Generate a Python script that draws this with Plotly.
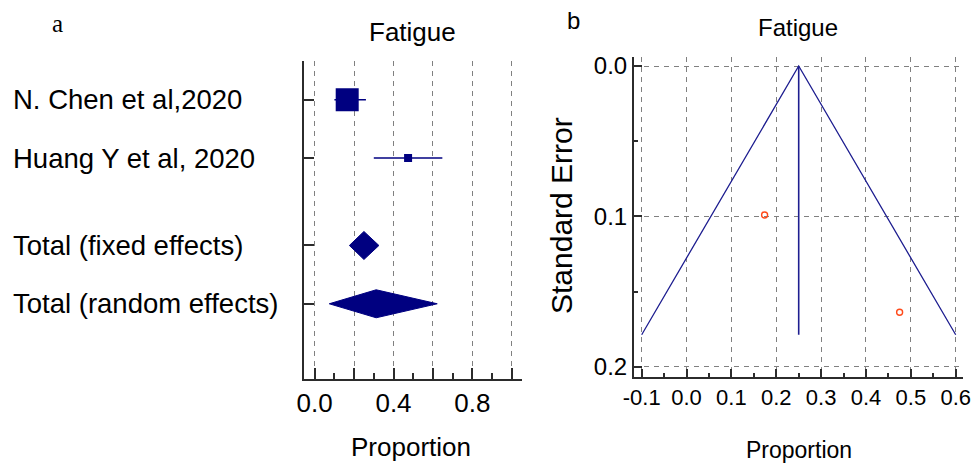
import plotly.graph_objects as go

# ---- data -------------------------------------------------------------
studies = ["N. Chen et al,2020", "Huang Y et al, 2020"]
study_prop = [0.165, 0.474]
study_lo = [0.100, 0.300]
study_hi = [0.260, 0.648]

pooled = ["Total (fixed effects)", "Total (random effects)"]
pooled_prop = [0.250, 0.312]
pooled_lo = [0.176, 0.074]
pooled_hi = [0.326, 0.622]

# funnel plot: study proportions against their standard errors
funnel_prop = [0.174, 0.475]
funnel_se = [0.099, 0.1637]
funnel_center = 0.25
funnel_se_max = 0.1786

forest_ticks = [0.0, 0.2, 0.4, 0.6, 0.8, 1.0]
forest_ticktext = ["0.0", "", "0.4", "", "0.8", ""]
funnel_xticks = [-0.1, 0.0, 0.1, 0.2, 0.3, 0.4, 0.5, 0.6]
funnel_yticks = [0.0, 0.1, 0.2]

# ---- styling ----------------------------------------------------------
W, H = 972, 464
NAVY = "#000080"
FUNNEL_BLUE = "#1e1e90"
POINT_RED = "#ff4a1a"
GRID = "#808080"
AXIS = "#2b2b2b"
SANS = "Liberation Sans, Arial, sans-serif"
SERIF = "Liberation Serif, Times New Roman, serif"

study_rows = [0, 1]
pooled_rows = [2.5, 3.5]
square_px = [23, 8]
diamond_half = 0.24


def fx(p):
    return p / W


def fy(p):
    return 1 - p / H


fig = go.Figure()

# forest plot: confidence intervals and weighted squares
for lo, hi, r in zip(study_lo, study_hi, study_rows):
    fig.add_trace(go.Scatter(x=[lo, hi], y=[r, r], mode="lines",
                             line=dict(color=NAVY, width=1.6),
                             xaxis="x", yaxis="y", hoverinfo="skip"))
fig.add_trace(go.Scatter(x=study_prop, y=study_rows, mode="markers",
                         marker=dict(symbol="square", size=square_px, color=NAVY,
                                     opacity=1, line=dict(width=0)),
                         xaxis="x", yaxis="y"))

# pooled estimates as diamonds
for est, lo, hi, r in zip(pooled_prop, pooled_lo, pooled_hi, pooled_rows):
    fig.add_trace(go.Scatter(x=[lo, est, hi, est, lo],
                             y=[r, r - diamond_half, r, r + diamond_half, r],
                             mode="lines", fill="toself", fillcolor=NAVY,
                             line=dict(color=NAVY, width=1),
                             xaxis="x", yaxis="y"))

# funnel plot: pseudo 95% limits and pooled line
half = 1.96 * funnel_se_max
fig.add_trace(go.Scatter(x=[funnel_center - half, funnel_center, funnel_center + half],
                         y=[funnel_se_max, 0, funnel_se_max], mode="lines",
                         line=dict(color=FUNNEL_BLUE, width=1.3),
                         xaxis="x2", yaxis="y2"))
fig.add_trace(go.Scatter(x=[funnel_center, funnel_center], y=[0, funnel_se_max],
                         mode="lines", line=dict(color=FUNNEL_BLUE, width=1.6),
                         xaxis="x2", yaxis="y2"))
fig.add_trace(go.Scatter(x=funnel_prop, y=funnel_se, mode="markers",
                         marker=dict(symbol="circle-open", size=6, color=POINT_RED,
                                     line=dict(width=1.4)),
                         xaxis="x2", yaxis="y2"))

axis_common = dict(showline=True, linecolor=AXIS, linewidth=2, zeroline=False,
                   ticks="inside", tickcolor=AXIS, tickwidth=1.5, automargin=False,
                   gridcolor=GRID, gridwidth=1.3, griddash="5px,5px", tickangle=0)

fig.update_layout(
    width=W, height=H, margin=dict(l=0, r=0, t=0, b=0, pad=0),
    paper_bgcolor="white", plot_bgcolor="white", showlegend=False,
    xaxis=dict(domain=[fx(304), fx(522)], range=[-0.0543, 1.0523], anchor="y",
               tickvals=forest_ticks, ticktext=forest_ticktext, ticklen=11,
               showgrid=True, tickfont=dict(family=SANS, size=26, color="black"),
               minor=dict(ticks="inside", ticklen=6, dtick=0.1, tick0=0,
                          tickcolor=AXIS, showgrid=False),
               **axis_common),
    yaxis=dict(domain=[fy(379), fy(60.7)], range=[4.79, -0.669], anchor="x",
               tickvals=study_rows + pooled_rows, showticklabels=False,
               ticklen=10, showgrid=False, **axis_common),
    xaxis2=dict(domain=[fx(634), fx(963)], range=[-0.1172, 0.6163], anchor="y2",
                tickvals=funnel_xticks, ticktext=[f"{v:.1f}" for v in funnel_xticks],
                ticklen=8, showgrid=True,
                tickfont=dict(family=SANS, size=22, color="black"),
                minor=dict(ticks="inside", ticklen=4, dtick=0.05, tick0=0,
                           tickcolor=AXIS, showgrid=False),
                **axis_common),
    yaxis2=dict(domain=[fy(376.7), fy(57)], range=[0.2065, -0.006], anchor="x2",
                tickvals=funnel_yticks, ticktext=[f"{v:.1f}" for v in funnel_yticks],
                ticklen=8, showgrid=True,
                tickfont=dict(family=SANS, size=24, color="black"),
                minor=dict(ticks="inside", ticklen=4, dtick=0.05, tick0=0,
                           tickcolor=AXIS, showgrid=False),
                **axis_common),
)

# row labels for the forest plot
for name, r in zip(studies + pooled, study_rows + pooled_rows):
    fig.add_annotation(text=name, x=fx(11), y=r, xref="paper", yref="y",
                       xanchor="left", yanchor="middle", showarrow=False,
                       font=dict(family=SANS, size=27.5, color="black"))

texts = [
    dict(text="a", x=fx(57), y=fy(24), font=dict(family=SERIF, size=25, color="black")),
    dict(text="b", x=fx(573), y=fy(21), font=dict(family=SANS, size=24, color="black")),
    dict(text="Fatigue", x=fx(412), y=fy(32), font=dict(family=SANS, size=26, color="black")),
    dict(text="Fatigue", x=fx(798), y=fy(28), font=dict(family=SANS, size=24, color="black")),
    dict(text="Proportion", x=fx(411), y=fy(447), font=dict(family=SANS, size=26, color="black")),
    dict(text="Proportion", x=fx(799), y=fy(450), font=dict(family=SANS, size=23, color="black")),
    dict(text="Standard Error", x=fx(562), y=fy(216), textangle=-90,
         font=dict(family=SANS, size=30, color="black")),
]
for t in texts:
    fig.add_annotation(xref="paper", yref="paper", xanchor="center", yanchor="middle",
                       showarrow=False, **t)

fig.write_html("out.html")
